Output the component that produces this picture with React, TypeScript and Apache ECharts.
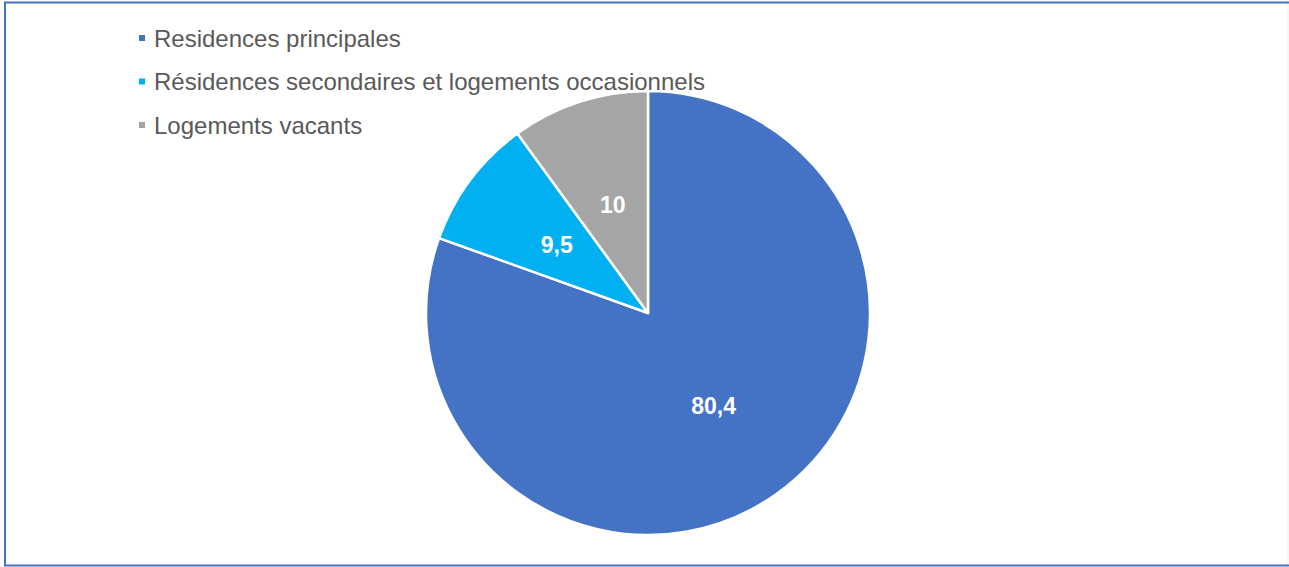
import React, { useEffect, useRef } from "react";
import * as echarts from "echarts";

const categories = [
  "Residences principales",
  "Résidences secondaires et logements occasionnels",
  "Logements vacants",
];
const values = [80.4, 9.5, 10];
const colors = ["#4472C4", "#00B0F0", "#A5A5A5"];

export default function App() {
  const ref = useRef<HTMLDivElement>(null);
  useEffect(() => {
    document.body.style.margin = "0";
    const chart = echarts.init(ref.current!, undefined, { renderer: "svg" });
    chart.setOption({
      animation: false,
      backgroundColor: "#ffffff",
      graphic: [
        {
          type: "rect",
          shape: { x: 5, y: 2.5, width: 1300, height: 563 },
          style: { fill: "none", stroke: "#4472C4", lineWidth: 2 },
          silent: true,
        },
        {
          type: "line",
          shape: { x1: 1288, y1: 4, x2: 1288, y2: 564 },
          style: { stroke: "#EDEDED", lineWidth: 1 },
          silent: true,
        },
      ],
      legend: {
        orient: "vertical",
        left: 137,
        top: 26,
        padding: 0,
        itemWidth: 8,
        itemHeight: 8,
        itemGap: 19.5,
        icon: "rect",
        textStyle: {
          fontFamily: "Liberation Sans, Arial, sans-serif",
          fontSize: 24,
          color: "#595959",
          padding: [0, 0, 0, 3],
        },
        data: categories,
      },
      series: [
        {
          type: "pie",
          center: [648, 313],
          radius: 222,
          startAngle: 90,
          clockwise: true,
          data: categories.map((name, i) => ({
            name,
            value: values[i],
            itemStyle: { color: colors[i] },
          })),
          itemStyle: { borderColor: "#ffffff", borderWidth: 2.5 },
          label: {
            show: true,
            position: "inside",
            formatter: (p: any) => String(p.value).replace(".", ","),
            color: "#ffffff",
            fontFamily: "Liberation Sans, Arial, sans-serif",
            fontWeight: "bold",
            fontSize: 23,
          },
          labelLine: { show: false },
          emphasis: { disabled: true },
        },
      ],
    });
    return () => chart.dispose();
  }, []);
  return (
    <div
      ref={ref}
      style={{ position: "absolute", left: 0, top: 0, width: 1289, height: 567 }}
    />
  );
}
